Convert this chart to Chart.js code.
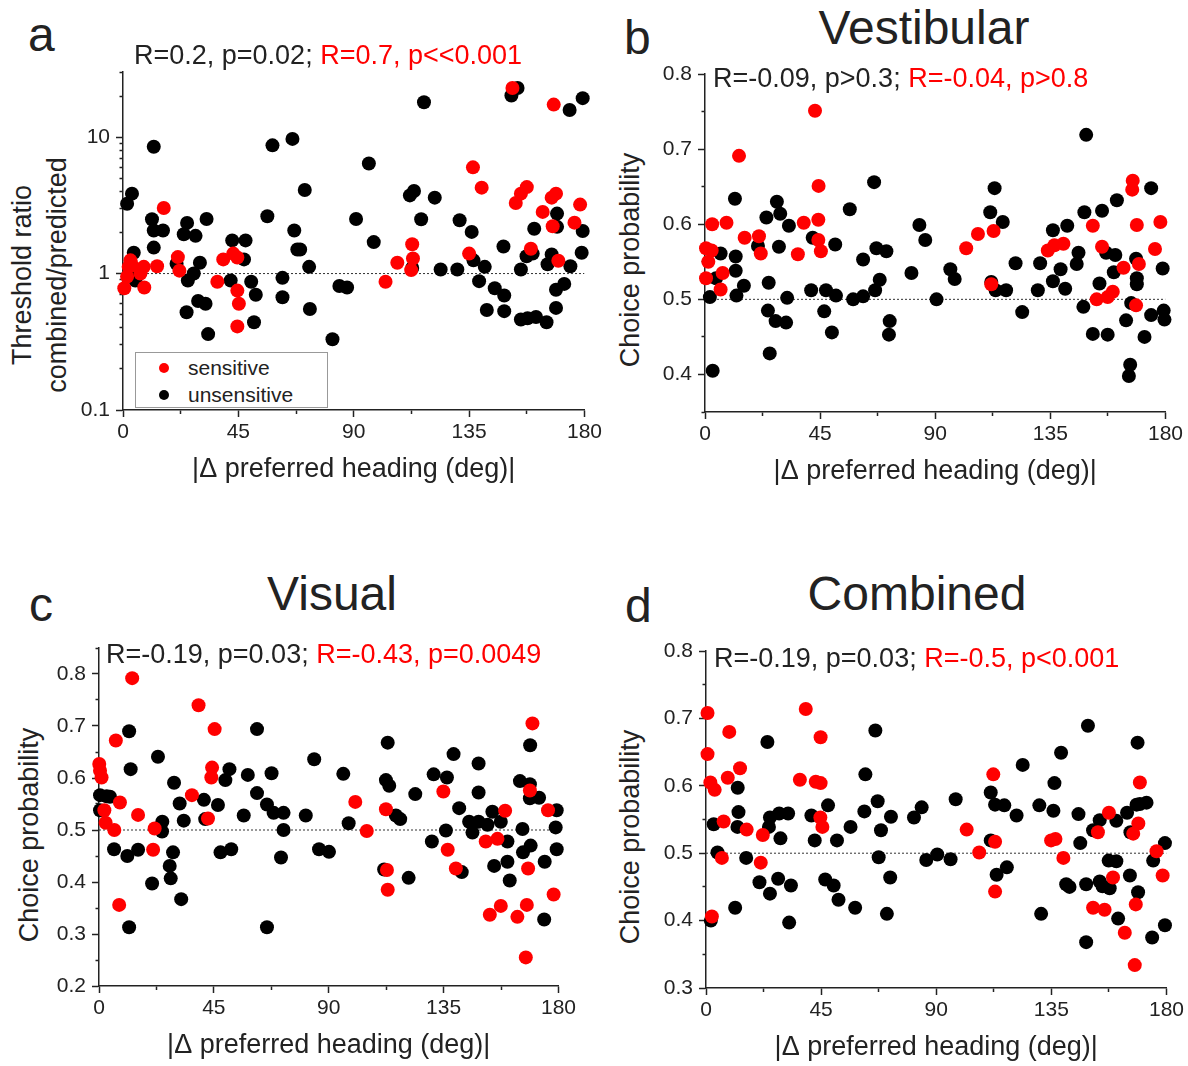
<!DOCTYPE html>
<html>
<head>
<meta charset="utf-8">
<title>Threshold ratio and choice probability vs heading difference</title>
<script src="https://cdn.jsdelivr.net/npm/chart.js@4.4.1/dist/chart.umd.min.js"></script>
<style>
  html, body { margin: 0; padding: 0; background: #fff; overflow: hidden; }
  body { font-family: "Liberation Sans", Arial, sans-serif; color: #222; }
  #fig { position: relative; width: 1188px; height: 1066px; overflow: hidden; }
  .plot { position: absolute; }
  .letter { position: absolute; font-size: 48px; line-height: 1; }
  .title { position: absolute; font-size: 48px; line-height: 1; white-space: nowrap; transform: translateX(-50%); }
  .stat { position: absolute; font-size: 27px; line-height: 1; white-space: nowrap; }
  .stat .red { color: #ff0000; }
  .ytitle { position: absolute; font-size: 27px; line-height: 35px; white-space: nowrap; text-align: center;
            transform: translate(-50%, -50%) rotate(-90deg); }
  .legend { position: absolute; left: 135px; top: 352px; width: 191px; height: 54px; border: 1px solid #999; background: #fff; }
  .legend .row { position: absolute; left: 0; height: 21px; font-size: 21px; line-height: 1; white-space: nowrap; }
  .legend .dot { position: absolute; width: 10px; height: 10px; border-radius: 50%; }
  .legend .lbl { position: absolute; left: 52px; top: 0; }
</style>
</head>
<body>
<div id="fig">
  <div class="letter" style="left:28px;top:11px;">a</div>
  <div class="letter" style="left:624px;top:14px;">b</div>
  <div class="letter" style="left:29px;top:581px;">c</div>
  <div class="letter" style="left:625px;top:582px;">d</div>

  <div class="title" style="left:924px;top:4px;">Vestibular</div>
  <div class="title" style="left:332px;top:570px;">Visual</div>
  <div class="title" style="left:917px;top:570px;">Combined</div>

  <div class="ytitle" style="left:40px;top:275px;">Threshold ratio<br>combined/predicted</div>
  <div class="ytitle" style="left:630px;top:260px;">Choice probability</div>
  <div class="ytitle" style="left:29px;top:835px;">Choice probability</div>
  <div class="ytitle" style="left:630px;top:837px;">Choice probability</div>

  <div class="plot" id="wrapA"><canvas id="chartA"></canvas></div>
  <div class="plot" id="wrapB"><canvas id="chartB"></canvas></div>
  <div class="plot" id="wrapC"><canvas id="chartC"></canvas></div>
  <div class="plot" id="wrapD"><canvas id="chartD"></canvas></div>

  <div class="stat" style="left:134px;top:42px;">R=0.2, p=0.02; <span class="red">R=0.7, p&lt;&lt;0.001</span></div>
  <div class="stat" style="left:713px;top:65px;">R=-0.09, p&gt;0.3; <span class="red">R=-0.04, p&gt;0.8</span></div>
  <div class="stat" style="left:106px;top:641px;">R=-0.19, p=0.03; <span class="red">R=-0.43, p=0.0049</span></div>
  <div class="stat" style="left:714px;top:645px;">R=-0.19, p=0.03; <span class="red">R=-0.5, p&lt;0.001</span></div>

  <div class="legend" id="legendA"></div>
</div>

<script>
(function(){
  'use strict';

  // ---- data ----
  const xLabelTicks = [0, 45, 90, 135, 180];
  const logLabelTicks = [0.1, 1, 10];
  const refX = [0, 180];

  // a: threshold ratio (log)
  const aSensDeg = [15.9, 0.5, 1.6, 2.9, 3.5, 2.2, 6.8, 8.1, 8.3, 13.3, 21.4, 22, 36.8, 39.1, 43, 44.6, 44.6, 45.2, 44.6,
    102.4, 107, 112.8, 113.1, 112.4, 135, 136.5, 139.9, 151.9, 153.2, 155.2, 157.5, 159.1, 163.7, 167.2, 168.9, 167.6, 169.8, 168, 176.1, 178.3];
  const aSensRatio = [3.02, 0.78, 0.95, 1.25, 1.15, 1.12, 1.0, 1.12, 0.79, 1.13, 1.32, 1.05, 0.87, 1.27, 1.4, 1.31, 0.75, 0.60, 0.41,
    0.87, 1.2, 1.64, 1.29, 1.06, 1.4, 6.0, 4.26, 22.9, 3.29, 3.85, 4.3, 1.52, 2.83, 3.6, 3.85, 2.22, 1.24, 17.3, 2.36, 3.2];
  const aUnsDeg = [12, 1.6, 3.5, 11.3, 12, 15.6, 12, 4.2, 5.5, 4.8, 20.9, 25, 23.7, 28.3, 32.6, 30, 27.6, 25.3, 24.8, 29.3, 32.2, 33.2,
    42.6, 47.8, 47.2, 42, 50, 51.8, 51.1, 58.3, 66.1, 70.9, 56.3, 66.8, 68, 69.1, 72.6, 62.2, 62.2, 72.9, 84.4, 87.4, 81.7, 90.9,
    117.4, 95.9, 97.8, 111.9, 113.5, 121.6, 116.3, 112.8, 123.9, 130.4, 131.3, 136, 136.7, 141.1, 138.9, 145, 148.7, 141.9, 148.7, 148.4,
    151.5, 153.9, 155.2, 157.4, 159.8, 160.4, 155.2, 157.8, 161.1, 165.2, 168.9, 168.9, 172.1, 165.6, 167.2, 169.3, 169.3, 174.5, 178.9, 179.3, 174.2, 179.3];
  const aUnsRatio = [8.5, 3.25, 3.85, 2.5, 2.07, 2.07, 1.55, 1.42, 1.06, 0.89, 1.18, 2.35, 1.94, 1.89, 2.51, 1.2, 1.0, 0.89, 0.52, 0.63, 0.60, 0.36,
    1.75, 1.75, 1.27, 0.89, 0.87, 0.70, 0.44, 8.7, 9.7, 4.1, 2.63, 2.07, 1.5, 1.5, 1.12, 0.93, 0.67, 0.55, 0.81, 0.79, 0.33, 2.51,
    18.0, 6.4, 1.7, 3.74, 4.03, 3.6, 2.5, 1.1, 1.07, 1.07, 2.46, 2.02, 1.25, 1.12, 0.88, 0.78, 0.69, 0.54, 0.53, 1.58,
    20.2, 22.9, 1.07, 1.34, 1.4, 2.13, 0.46, 0.47, 0.48, 0.44, 0.56, 0.76, 0.84, 1.17, 1.38, 2.75, 2.2, 1.13, 1.42, 2.05, 15.8, 19.3];

  // b: vestibular choice probability
  const bSensDeg = [43, 13.3, 44.4, 2.8, 8.4, 38.6, 44.3, 15.5, 21.1, 21.8, 0.4, 2.6, 1.3, 0.4, 6.9, 6.1, 36.3, 44.3, 45.3,
    102.1, 106.7, 112.8, 111.9, 134, 136.6, 140.1, 151.6, 155.2, 153.1, 157.4, 159.4, 163.6, 167.2, 167, 168.8, 169.6, 168.5, 175.9, 178];
  const bSensCP = [0.751, 0.691, 0.651, 0.6, 0.602, 0.602, 0.606, 0.582, 0.584, 0.561, 0.568, 0.565, 0.55, 0.528, 0.535, 0.513, 0.56, 0.579, 0.564,
    0.568, 0.587, 0.591, 0.52, 0.565, 0.572, 0.574, 0.598, 0.57, 0.5, 0.503, 0.51, 0.542, 0.658, 0.646, 0.599, 0.547, 0.492, 0.567, 0.603];
  const bUnsDeg = [3, 1.9, 4.3, 6.1, 11.7, 12, 12, 12.3, 15.2, 20.7, 24, 24.9, 24.6, 25.3, 28.1, 29.4, 28.9, 27.6, 31.7, 32.8, 32.1,
    41.5, 42.1, 47.3, 46.6, 49.6, 51.2, 50.9, 56.6, 57.9, 61.8, 61.8, 66.1, 66.5, 68.3, 67, 70.9, 72.2, 71.9, 80.7, 83.8, 86.1, 90.5,
    95.9, 97.6, 111.5, 113.2, 116.4, 111.9, 113.6, 117.7, 121.4, 124, 130.1, 131, 136, 136, 139, 140.8, 141.6, 145.3, 146, 148.3, 149, 147.9,
    151.6, 154.2, 155.2, 156.8, 160.4, 159.8, 157.4, 161, 164.6, 166.2, 165.7, 168.5, 168.8, 168.8, 166.6, 171.8, 174.4, 174.4, 179.3, 179.6, 178.9];
  const bUnsCP = [0.405, 0.503, 0.528, 0.561, 0.634, 0.557, 0.538, 0.505, 0.518, 0.571, 0.609, 0.522, 0.485, 0.428, 0.63, 0.614, 0.57, 0.471, 0.469, 0.598, 0.502,
    0.512, 0.582, 0.512, 0.484, 0.456, 0.505, 0.573, 0.62, 0.5, 0.504, 0.553, 0.656, 0.512, 0.526, 0.568, 0.564, 0.471, 0.453, 0.535, 0.599, 0.579, 0.5,
    0.54, 0.527, 0.616, 0.648, 0.603, 0.523, 0.512, 0.512, 0.548, 0.483, 0.512, 0.548, 0.592, 0.524, 0.54, 0.514, 0.598, 0.547, 0.562, 0.616, 0.719, 0.49,
    0.454, 0.521, 0.618, 0.562, 0.559, 0.536, 0.453, 0.632, 0.472, 0.413, 0.398, 0.554, 0.528, 0.52, 0.495, 0.45, 0.648, 0.479, 0.485, 0.473, 0.541];

  // c: visual choice probability
  const cSensDeg = [13, 39, 45.3, 6.6, 0.1, 0.4, 1, 44.3, 44, 8.2, 36.4, 15.3, 2.1, 2.6, 6, 21.8, 21.2, 42.7, 7.9,
    100.4, 104.9, 112.4, 112.8, 113.1, 134.9, 136.6, 139.8, 151.5, 156.1, 159.1, 153.1, 157.4, 163.9, 167.6, 168.1, 168.8, 169.8, 167.2, 175.9, 178.1];
  const cSensCP = [0.792, 0.74, 0.694, 0.672, 0.627, 0.614, 0.601, 0.62, 0.601, 0.553, 0.567, 0.529, 0.538, 0.514, 0.5, 0.503, 0.462, 0.522, 0.356,
    0.554, 0.498, 0.54, 0.423, 0.385, 0.574, 0.462, 0.426, 0.478, 0.483, 0.537, 0.337, 0.354, 0.333, 0.356, 0.426, 0.576, 0.705, 0.255, 0.538, 0.376];
  const cUnsDeg = [11.8, 12.4, 23.1, 0.4, 3, 4.3, 0.4, 5.9, 11.1, 15.3, 24.8, 24.7, 29.4, 31.6, 33.2, 29, 27.7, 28.1, 20.8, 32.2, 11.8,
    41.1, 41.6, 46.6, 49.5, 51.1, 47.6, 51.8, 56.7, 58.3, 61.9, 61.9, 65.8, 67.6, 68.4, 72.3, 72.3, 71.3, 65.8, 81, 84.3, 86.2, 90.1,
    95.7, 97.8, 113.1, 112.4, 113.7, 116.3, 118, 111.7, 121.3, 123.9, 131.1, 136.3, 138.9, 135.9, 130.4, 141.1, 142.1, 148.7, 148.7, 145, 146.3, 148.7,
    152.2, 154.1, 157.4, 154.8, 160, 160, 160.9, 164.9, 168.8, 168.8, 172.4, 168.9, 165.9, 166.1, 169.1, 174.6, 174.4, 179.3, 178.9, 179.3];
  const cUnsCP = [0.69, 0.617, 0.641, 0.567, 0.565, 0.564, 0.538, 0.463, 0.45, 0.462, 0.516, 0.497, 0.591, 0.551, 0.518, 0.457, 0.431, 0.407, 0.397, 0.367, 0.313,
    0.558, 0.521, 0.548, 0.596, 0.617, 0.457, 0.463, 0.528, 0.606, 0.571, 0.694, 0.549, 0.609, 0.533, 0.533, 0.5, 0.447, 0.313, 0.528, 0.636, 0.463, 0.458,
    0.608, 0.513, 0.668, 0.596, 0.585, 0.528, 0.521, 0.424, 0.408, 0.569, 0.607, 0.601, 0.646, 0.499, 0.478, 0.542, 0.419, 0.628, 0.572, 0.516, 0.495, 0.516,
    0.51, 0.535, 0.516, 0.431, 0.478, 0.439, 0.403, 0.594, 0.588, 0.561, 0.562, 0.663, 0.502, 0.457, 0.47, 0.439, 0.328, 0.538, 0.505, 0.463];

  // d: combined choice probability
  const dSensDeg = [0.6, 39, 9.1, 44.8, 0.6, 13.3, 1.7, 3.4, 8.5, 36.7, 42.9, 44.8, 6.9, 15.9, 22.2, 21.4, 6.2, 44.7, 45.5, 2.3,
    101.9, 106.8, 112.3, 113, 113, 134.9, 136.6, 139.7, 151.3, 155.8, 153.2, 157.5, 159.1, 163.7, 168, 167.6, 167, 169, 169.6, 176.1, 178.5];
  const dSensCP = [0.708, 0.714, 0.68, 0.672, 0.647, 0.626, 0.605, 0.594, 0.612, 0.609, 0.606, 0.604, 0.547, 0.535, 0.527, 0.486, 0.493, 0.553, 0.539, 0.406,
    0.535, 0.501, 0.617, 0.517, 0.443, 0.519, 0.521, 0.493, 0.419, 0.416, 0.531, 0.56, 0.464, 0.382, 0.424, 0.334, 0.529, 0.544, 0.605, 0.503, 0.467];
  const dUnsDeg = [1.9, 3, 4.5, 24, 12.4, 12.7, 12.3, 15.7, 11.4, 20.9, 25, 28.2, 33.2, 32.5, 25, 24.6, 28.6, 32.1, 29.1,
    41.2, 42.5, 47.7, 46.6, 49.9, 51.8, 51.2, 56.5, 58.3, 62.3, 61.9, 66.2, 67.1, 68.4, 67.5, 72.3, 72, 70.7, 81.3, 84.3, 86.1, 90.4,
    95.6, 97.6, 111.3, 113, 116.6, 121.4, 123.8, 111.3, 113.6, 117.6, 130.3, 135.8, 136.2, 138.8, 131, 140.8, 142.1, 145.6, 146.3, 148.6, 149.3, 148.6,
    151.3, 153.9, 153.9, 155, 157.8, 157.4, 160.4, 160.4, 161.1, 164.6, 165.9, 165.7, 168.9, 168.3, 169.6, 172.2, 168.7, 174.8, 174.4, 179.4, 179.4];
  const dUnsCP = [0.4, 0.543, 0.501, 0.665, 0.597, 0.561, 0.539, 0.493, 0.419, 0.457, 0.44, 0.462, 0.452, 0.397, 0.553, 0.539, 0.559, 0.559, 0.522,
    0.556, 0.519, 0.571, 0.461, 0.452, 0.431, 0.519, 0.539, 0.419, 0.617, 0.562, 0.682, 0.577, 0.534, 0.494, 0.554, 0.464, 0.41, 0.553, 0.568, 0.49, 0.498,
    0.491, 0.58, 0.59, 0.572, 0.571, 0.556, 0.631, 0.519, 0.468, 0.479, 0.571, 0.563, 0.604, 0.649, 0.41, 0.454, 0.45, 0.558, 0.515, 0.454, 0.689, 0.368,
    0.534, 0.549, 0.458, 0.451, 0.448, 0.489, 0.488, 0.548, 0.403, 0.56, 0.531, 0.467, 0.442, 0.572, 0.573, 0.575, 0.664, 0.489, 0.375, 0.515, 0.393];

  // ---- style / layout ----
  const RED = '#ff0000';
  const BLACK = '#000000';
  const INK = '#222222';
  const YW = 80, XH = 80, PT = 20, PR = 20;   // y axis width, x axis height, top/right padding
  const TL = 7, MINOR = 3.5;                  // major / minor tick length

  Chart.defaults.font.family = '"Liberation Sans", Arial, sans-serif';
  Chart.defaults.color = INK;

  function pts(xs, ys){ return xs.map((x, i) => ({ x: x, y: ys[i] })); }

  function place(wrapId, a){
    const el = document.getElementById(wrapId);
    el.style.left = (a.L - YW) + 'px';
    el.style.top = (a.T - PT) + 'px';
    el.style.width = (YW + a.R - a.L + PR) + 'px';
    el.style.height = (PT + a.B - a.T + XH) + 'px';
  }

  function near(v, list){ return list.some(m => Math.abs(m - v) < 1e-9); }
  const isTenth = v => Math.abs(v * 10 - Math.round(v * 10)) < 1e-6;

  // minor ticks: draw only the part next to the axis line
  // (left ticks are stroked outer->axis, bottom ticks axis->outer)
  function yTickGrid(isMajor){
    return {
      display: true, drawOnChartArea: false, tickLength: TL, tickColor: INK, tickWidth: 1.5,
      tickBorderDash: c => (c.tick && isMajor(c.tick.value)) ? [] : [0, TL - MINOR, MINOR, 100]
    };
  }

  function xScale(){
    return {
      type: 'linear', min: 0, max: 180,
      afterFit: s => { s.height = XH; },
      ticks: { stepSize: 22.5, autoSkip: false, maxRotation: 0, padding: 3, color: INK, font: { size: 21 },
        callback: v => near(v, xLabelTicks) ? String(v) : '' },
      grid: {
        display: true, drawOnChartArea: false, tickLength: TL, tickColor: INK, tickWidth: 1.5,
        tickBorderDash: c => (c.tick && near(c.tick.value, xLabelTicks)) ? [] : [MINOR, 100]
      },
      border: { display: true, color: INK, width: 1.5 },
      title: { display: true, text: '|\u0394 preferred heading (deg)|', color: INK, font: { size: 27 }, padding: { top: 0, bottom: 4 } }
    };
  }

  function cpScale(min, max){
    return {
      type: 'linear', min: min, max: max,
      afterFit: s => { s.width = YW; },
      ticks: { stepSize: 0.05, autoSkip: false, padding: 6, color: INK, font: { size: 21 },
        callback: v => isTenth(v) ? v.toFixed(1) : '' },
      grid: yTickGrid(isTenth),
      border: { display: true, color: INK, width: 1.5 }
    };
  }

  function ratioScale(){
    return {
      type: 'logarithmic', min: 0.1, max: 30,
      afterFit: s => { s.width = YW; },
      afterBuildTicks: s => {
        // keep 1..9 x 10^n only
        s.ticks = s.ticks.filter(t => {
          const m = t.value / Math.pow(10, Math.floor(Math.log10(t.value) + 1e-9));
          return Math.abs(m - Math.round(m)) < 1e-6;
        });
      },
      ticks: { autoSkip: false, padding: 6, color: INK, font: { size: 21 },
        callback: v => near(v, logLabelTicks) ? String(v) : '' },
      grid: yTickGrid(v => near(v, logLabelTicks)),
      border: { display: true, color: INK, width: 1.5 }
    };
  }

  function makePanel(canvasId, sens, uns, refY, yScale){
    new Chart(document.getElementById(canvasId), {
      type: 'scatter',
      data: {
        datasets: [
          { label: 'sensitive', data: sens, backgroundColor: RED, borderWidth: 0, pointRadius: 7, pointHoverRadius: 7, clip: false },
          { label: 'unsensitive', data: uns, backgroundColor: BLACK, borderWidth: 0, pointRadius: 7, pointHoverRadius: 7, clip: false },
          { label: 'reference', data: pts(refX, [refY, refY]), showLine: true, pointRadius: 0,
            borderColor: '#333', borderWidth: 1, borderDash: [2, 2] }
        ]
      },
      options: {
        responsive: true,
        maintainAspectRatio: false,
        animation: false,
        layout: { padding: { top: PT, right: PR, left: 0, bottom: 0 } },
        plugins: { legend: { display: false }, tooltip: { enabled: false } },
        scales: { x: xScale(), y: yScale }
      }
    });
  }

  place('wrapA', { L: 123, R: 585, T: 72, B: 410 });
  place('wrapB', { L: 705, R: 1166, T: 74, B: 412 });
  place('wrapC', { L: 99, R: 559, T: 648, B: 986 });
  place('wrapD', { L: 706, R: 1167, T: 651, B: 988 });

  makePanel('chartA', pts(aSensDeg, aSensRatio), pts(aUnsDeg, aUnsRatio), 1, ratioScale());
  makePanel('chartB', pts(bSensDeg, bSensCP), pts(bUnsDeg, bUnsCP), 0.5, cpScale(0.35, 0.8));
  makePanel('chartC', pts(cSensDeg, cSensCP), pts(cUnsDeg, cUnsCP), 0.5, cpScale(0.2, 0.85));
  makePanel('chartD', pts(dSensDeg, dSensCP), pts(dUnsDeg, dUnsCP), 0.5, cpScale(0.3, 0.8));

  // legend for panel a
  const legendItems = [ { text: 'sensitive', color: RED }, { text: 'unsensitive', color: BLACK } ];
  const legend = document.getElementById('legendA');
  legendItems.forEach((it, i) => {
    const row = document.createElement('div');
    row.className = 'row';
    row.style.top = (4 + i * 26.6) + 'px';
    row.style.width = '100%';
    row.innerHTML = '<span class="dot" style="left:23px;top:6px;background:' + it.color + '"></span>' +
                    '<span class="lbl">' + it.text + '</span>';
    legend.appendChild(row);
  });
})();
</script>
</body>
</html>
